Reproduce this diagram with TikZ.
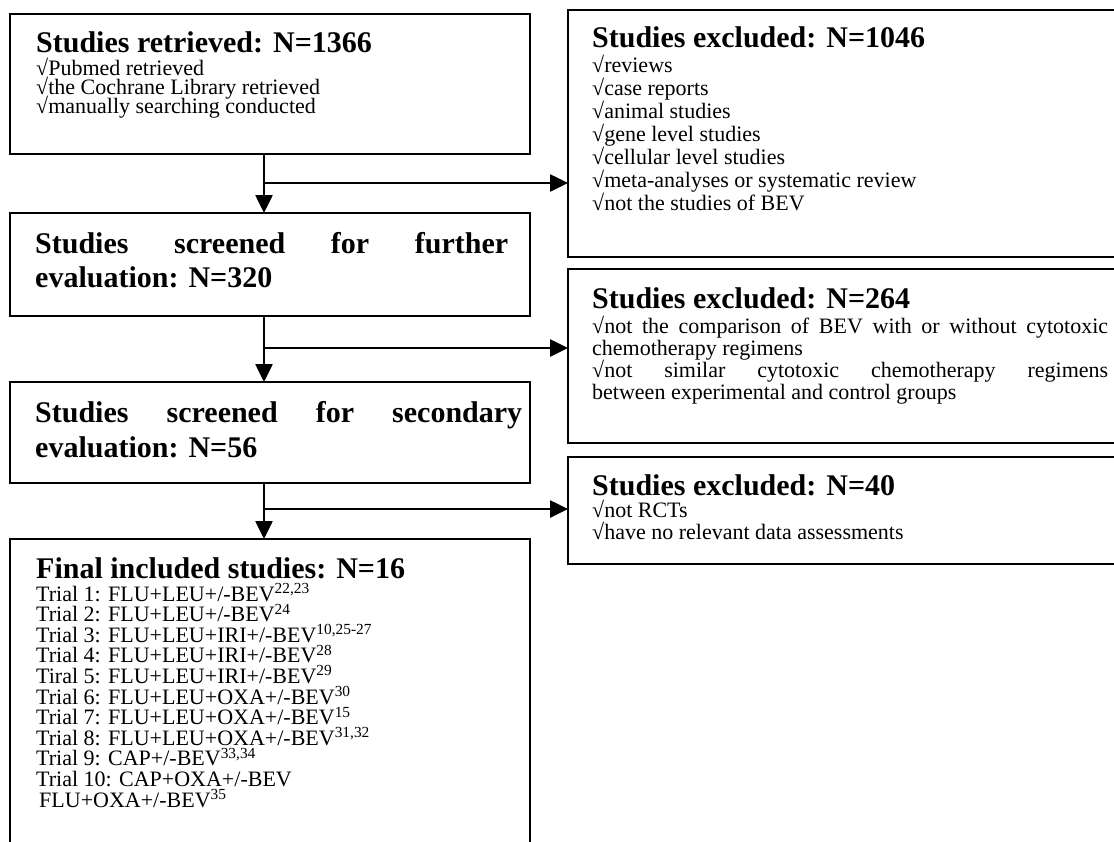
\documentclass[tikz,border=0pt]{standalone}
\usepackage{fontspec}
\setmainfont{Liberation Serif}
\usetikzlibrary{arrows.meta,positioning}

% heading inside a box, and a block of box text with its own line pitch
\newcommand{\hd}[1]{{\fontsize{30}{30}\selectfont\bfseries #1}}
\newcommand{\boxtext}[3]{\parbox[t]{#1}{\fontsize{22}{#2}\selectfont\lineskiplimit=-40pt\lineskip=0pt\raggedright #3}}

\begin{document}
\begin{tikzpicture}[x=1pt, y=-1pt,
  stage/.style={draw, line width=2.6pt, outer sep=0pt, inner sep=0pt, anchor=north west, minimum width=520pt},
  excl/.style={draw, line width=2.6pt, outer sep=0pt, inner sep=0pt, anchor=north west, minimum width=570pt},
  txt/.style={anchor=base west, inner sep=0pt},
  flow/.style={-{Triangle[length=18pt,width=17pt]}, line width=2.6pt}]
\useasboundingbox (0,0) rectangle (1114,841);
\clip (0,0) rectangle (1114,841);

% left column
\node[stage, minimum height=140pt] (retr) at (10,14) {};
\node[stage, minimum height=103pt] (scr1) at (10,213) {};
\node[stage, minimum height=101pt] (scr2) at (10,382) {};
\node[stage, minimum height=330pt] (final) at (10,539) {};

% right column
\node[excl, minimum height=247pt] (exc1) at (568,10) {};
\node[excl, minimum height=174pt] (exc2) at (568,269) {};
\node[excl, minimum height=107pt] (exc3) at (568,457) {};

\node[txt] (retrT) at (36,52) {\boxtext{480pt}{19}{\hd{Studies retrieved: N=1366}\\[4pt]
√Pubmed retrieved\\
√the Cochrane Library retrieved\\
√manually searching conducted}};

\node[txt] (scr1T) at (35,253) {\parbox[t]{480pt}{\fontsize{30}{34}\selectfont\bfseries\lineskiplimit=-40pt
\makebox[473pt][s]{Studies screened for further}\\
evaluation: N=320}};

\node[txt] (scr2T) at (35,422) {\parbox[t]{490pt}{\fontsize{30}{35}\selectfont\bfseries\lineskiplimit=-40pt
\makebox[487pt][s]{Studies screened for secondary}\\
evaluation: N=56}};

\node[txt] (finalT) at (36,578) {\boxtext{480pt}{20.6}{\hd{Final included studies: N=16}\\[2.4pt]
Trial 1: FLU+LEU+/-BEV\textsuperscript{22,23}\\
Trial 2: FLU+LEU+/-BEV\textsuperscript{24}\\
Trial 3: FLU+LEU+IRI+/-BEV\textsuperscript{10,25-27}\\
Trial 4: FLU+LEU+IRI+/-BEV\textsuperscript{28}\\
Tiral 5: FLU+LEU+IRI+/-BEV\textsuperscript{29}\\
Trial 6: FLU+LEU+OXA+/-BEV\textsuperscript{30}\\
Trial 7: FLU+LEU+OXA+/-BEV\textsuperscript{15}\\
Trial 8: FLU+LEU+OXA+/-BEV\textsuperscript{31,32}\\
Trial 9: CAP+/-BEV\textsuperscript{33,34}\\
Trial 10: CAP+OXA+/-BEV\\
\hspace*{3pt}FLU+OXA+/-BEV\textsuperscript{35}}};

\node[txt] (exc1T) at (592,47) {\boxtext{520pt}{23}{\hd{Studies excluded: N=1046}\\[2pt]
√reviews\\
√case reports\\
√animal studies\\
√gene level studies\\
√cellular level studies\\
√meta-analyses or systematic review\\
√not the studies of BEV}};

\node[txt] (exc2T) at (592,308) {\boxtext{520pt}{22}{\hd{Studies excluded: N=264}\\[3pt]
\makebox[516pt][s]{√not the comparison of BEV with or without cytotoxic}\\
chemotherapy regimens\\
\makebox[516pt][s]{√not similar cytotoxic chemotherapy regimens}\\
between experimental and control groups}};

\node[txt] (exc3T) at (592,495) {\boxtext{520pt}{22}{\hd{Studies excluded: N=40}\\
√not RCTs\\
√have no relevant data assessments}};

% connectors
\coordinate (spine) at (264,0);
\coordinate (b1) at (264,183);
\coordinate (b2) at (264,348);
\coordinate (b3) at (264,509);
\draw[flow] (retr.south -| spine) -- (scr1.north -| spine);
\draw[flow] (scr1.south -| spine) -- (scr2.north -| spine);
\draw[flow] (scr2.south -| spine) -- (final.north -| spine);
\draw[flow] (b1) -- (b1 -| exc1.west);
\draw[flow] (b2) -- (b2 -| exc2.west);
\draw[flow] (b3) -- (b3 -| exc3.west);
\end{tikzpicture}
\end{document}
